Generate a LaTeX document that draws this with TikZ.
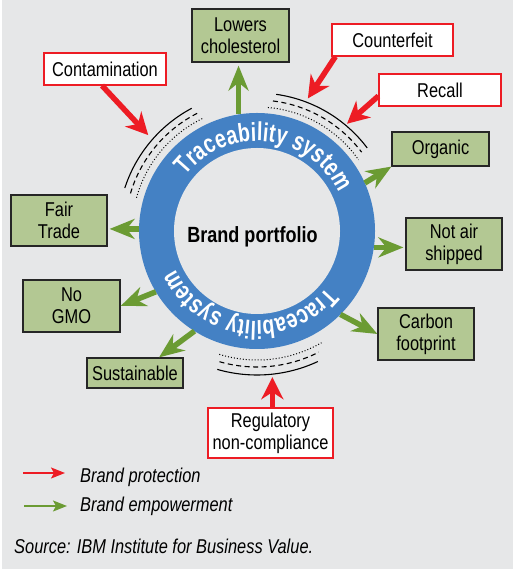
\documentclass[tikz,border=0pt]{standalone}
\usepackage{fontspec}
\setmainfont{Liberation Sans}[FakeStretch=0.82]
\newfontfamily\ringfam{Liberation Sans}[FakeStretch=0.75]
\usetikzlibrary{calc,arrows.meta,decorations.text}

\definecolor{bggray}{HTML}{E6E7E8}
\definecolor{ringblue}{HTML}{4481C4}
\definecolor{boxgreen}{HTML}{B3C893}
\definecolor{arrgreen}{HTML}{6B9B33}
\definecolor{arrred}{HTML}{ED1C24}

\newcommand{\boxfont}{\fontsize{20}{22}\selectfont}
\newcommand{\ringfont}{\ringfam\fontsize{26}{28}\selectfont\bfseries}
\newcommand{\legfont}{\fontsize{20}{24}\selectfont\itshape}

\begin{document}
\begin{tikzpicture}[x=1pt,y=1pt,
  greenbox/.style={draw=black!85, line width=1.2pt, fill=boxgreen, align=center,
    font=\boxfont, inner sep=0pt, minimum width=96, minimum height=52},
  redbox/.style={draw=arrred, line width=1.2pt, fill=white, align=center,
    font=\boxfont, inner sep=0pt, minimum width=122, minimum height=32},
  redarrow/.style={draw=arrred, line width=5.5pt, -{Stealth[length=22pt,width=22pt,inset=7pt]}},
  greenarrow/.style={draw=arrgreen, line width=5.5pt, -{Stealth[length=25pt,width=20pt,inset=8pt]}},
  ringtext/.style={decorate, decoration={text along path, text align={fit to path},
    text color=white, text={|\ringfont|Traceability system}}}]

  \fill[white] (0,0) rectangle (513,569);
  \fill[bggray] (2,0) rectangle (513,569);
  \useasboundingbox (0,0) rectangle (513,569);

  \def\R{118}
  \coordinate (O) at (257,338);
  \node[circle, fill=ringblue, minimum size=2*\R, inner sep=0pt, outer sep=0pt] (ring) at (O) {};
  \fill[bggray] (O) circle (83);
  \node[anchor=base, font=\fontsize{22}{24}\selectfont\bfseries] (port) at (252.5,326.3) {Brand portfolio};

  % text round the ring
  \path[ringtext] ($(O)+(142:90)$) arc[start angle=142, end angle=25, radius=90];
  \path[ringtext] ($(O)+(-39:90)$) arc[start angle=-39, end angle=-155, radius=90];

  % shields, upper left
  \draw[line width=1.1pt] ($(O)+(118:139)$) arc[start angle=118, end angle=162, radius=139];
  \draw[line width=1.1pt, dash pattern=on 5pt off 3.5pt] ($(O)+(117:132)$) arc[start angle=117, end angle=164, radius=132];
  \draw[line width=1pt, dash pattern=on 1pt off 2pt] ($(O)+(116:125)$) arc[start angle=116, end angle=165, radius=125];
  % shields, upper right
  \draw[line width=1.1pt] ($(O)+(82:138)$) arc[start angle=82, end angle=37, radius=138];
  \draw[line width=1.1pt, dash pattern=on 5pt off 3.5pt] ($(O)+(83:131)$) arc[start angle=83, end angle=37, radius=131];
  \draw[line width=1pt, dash pattern=on 1pt off 2pt] ($(O)+(85:124)$) arc[start angle=85, end angle=35, radius=124];
  % shields, bottom
  \draw[line width=1.1pt] ($(O)+(-106:144)$) arc[start angle=-106, end angle=-65, radius=144];
  \draw[line width=1.1pt, dash pattern=on 5pt off 3.5pt] ($(O)+(-106:136)$) arc[start angle=-106, end angle=-63, radius=136];
  \draw[line width=1pt, dash pattern=on 1pt off 2pt] ($(O)+(-107:129)$) arc[start angle=-107, end angle=-60, radius=129];

  % threats
  \node[redbox] (cont) at (105,500) {Contamination};
  \node[redbox, minimum width=121] (cfeit) at (392.5,529) {Counterfeit};
  \node[redbox] (recall) at (440,479) {Recall};
  \node[redbox, minimum width=125, minimum height=50] (reg) at (270.5,136) {Regulatory\\non-compliance};

  % claims
  \node[greenbox, minimum width=97, minimum height=53] (chol) at (240.5,533.5) {Lowers\\cholesterol};
  \node[greenbox, minimum width=97, minimum height=34] (org) at (440.5,420) {Organic};
  \node[greenbox] (air) at (454,325) {Not air\\shipped};
  \node[greenbox] (carbon) at (426,235) {Carbon\\footprint};
  \node[greenbox, minimum height=51] (fair) at (59,348.5) {Fair\\Trade};
  \node[greenbox, minimum width=97] (gmo) at (71.5,263) {No\\GMO};
  \node[greenbox, minimum height=30] (sust) at (135,196) {Sustainable};

  \coordinate (tcont) at ($(O)+(138.6:145)$);  % tips on the shields
  \coordinate (tcfeit) at ($(O)+(69:142)$);
  \coordinate (trecall) at ($(O)+(50:140)$);
  \coordinate (treg) at ($(O)+(-84:147)$);

  \draw[redarrow] ([xshift=-3pt]cont.south) -- (tcont);
  \draw[redarrow] ([xshift=4pt]cfeit.south west) -- (tcfeit);
  \draw[redarrow] ([yshift=-6pt]recall.west) -- (trecall);
  \draw[redarrow] (reg.north -| treg) -- (treg);

  \draw[greenarrow, shorten >=3pt] (ring.99) -- (ring.99 |- chol.south);
  \draw[greenarrow] (ring.24) -- (org.south west);
  \draw[greenarrow, shorten >=2pt] (ring.-8) -- (ring.-8 -| air.west);
  \draw[greenarrow] (ring.-45) -- (carbon.west);
  \draw[greenarrow, shorten >=2pt] (ring.179) -- (ring.179 -| fair.east);
  \draw[greenarrow] (ring.211) -- (gmo.east);
  \draw[greenarrow] (ring.238) -- (sust.33);

  % legend
  \coordinate (lr1) at (23,96);
  \coordinate (lr2) at (65,96);
  \coordinate (lg1) at (24,63);
  \coordinate (lg2) at (67,63);
  \draw[arrred, line width=1.3pt, -{Stealth[length=14pt,width=11pt,inset=3pt]}] (lr1) -- (lr2);
  \draw[arrgreen, line width=1.3pt, -{Stealth[length=14pt,width=11pt,inset=3pt]}] (lg1) -- (lg2);
  \node[anchor=base west, font=\legfont, inner sep=0pt] (lprot) at (80,86) {Brand protection};
  \node[anchor=base west, font=\legfont, inner sep=0pt] (lemp) at (80,57) {Brand empowerment};
  \node[anchor=base west, font=\legfont, inner sep=0pt] (src) at (14,16) {Source: IBM Institute for Business Value.};
\end{tikzpicture}
\end{document}
